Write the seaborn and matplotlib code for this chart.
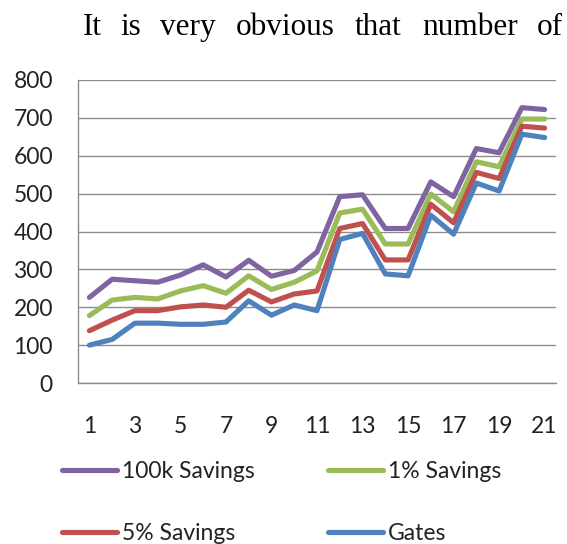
import matplotlib
matplotlib.use("Agg")
import matplotlib.pyplot as plt
import seaborn as sns
import pandas as pd
import numpy as np

# Series values per position
positions = list(range(1, 22))
savings_100k = [226, 274, 270, 266, 285, 312, 280, 324, 282, 297, 346, 492, 497, 408, 408, 531, 492, 619, 608, 727, 722]
savings_1pct = [178, 219, 226, 222, 243, 257, 237, 283, 247, 266, 296, 449, 459, 367, 367, 499, 452, 584, 571, 697, 697]
savings_5pct = [138, 166, 191, 191, 201, 206, 200, 245, 214, 235, 243, 408, 421, 325, 325, 472, 423, 556, 540, 678, 673]
gates = [100, 115, 158, 158, 155, 155, 161, 217, 179, 206, 191, 379, 395, 288, 283, 443, 393, 528, 507, 657, 648]

series_names = ["100k Savings", "1% Savings", "5% Savings", "Gates"]
series_values = [savings_100k, savings_1pct, savings_5pct, gates]
colors = {"100k Savings": "#8064A2", "1% Savings": "#9BBB59",
          "5% Savings": "#C0504D", "Gates": "#4F81BD"}

x_tick_labels = [str(v) for v in range(1, 22, 2)]
y_ticks = list(range(0, 801, 100))

# Sentence fragment above the chart (justified words)
header_words = ["It", "is", "very", "obvious", "that", "number", "of"]
header_x_px = [83, 120, 160, 236, 355, 422, 537]

df = pd.DataFrame({
    "position": np.tile(positions, len(series_names)),
    "value": np.concatenate(series_values),
    "series": np.repeat(series_names, len(positions)),
})

sns.set_theme(style="white")
plt.rcParams["font.family"] = ["Lato", "DejaVu Sans"]

W, H = 567, 544
fs = 16.5
fig = plt.figure(figsize=(W / 100, H / 100), dpi=100)
ax = fig.add_axes([78 / W, 1 - 383 / H, (556 - 78) / W, (383 - 80) / H])

sns.lineplot(data=df, x="position", y="value", hue="series", hue_order=series_names,
             palette=colors, linewidth=3.7, ax=ax, legend=True)

grid_c = "#8c8c8c"
ax.set_xlim(0.5, 21.5)
ax.set_ylim(0, 800)
ax.set_yticks(y_ticks)
ax.set_yticklabels([str(v) for v in y_ticks])
ax.yaxis.grid(True, color=grid_c, linewidth=1.0)
ax.set_axisbelow(True)
ax.set_xticks(list(range(1, 22, 2)))
ax.set_xticklabels(x_tick_labels)
ax.set_xticks(np.arange(0.5, 22, 1.0), minor=True)
ax.tick_params(axis="x", which="major", length=0, pad=24, labelsize=fs, colors="#222222")
ax.tick_params(axis="x", which="minor", length=7, width=1.0, color=grid_c, direction="out")
ax.tick_params(axis="y", which="major", length=7, width=1.0, color=grid_c, pad=11,
               labelsize=fs, labelcolor="#222222", direction="out")
ax.set_xlabel("")
ax.set_ylabel("")
for side in ["top", "right"]:
    ax.spines[side].set_visible(False)
for side in ["left", "bottom"]:
    ax.spines[side].set_color(grid_c)
    ax.spines[side].set_linewidth(1.0)

handles, labels = ax.get_legend_handles_labels()
hmap = dict(zip(labels, handles))
order = ["100k Savings", "5% Savings", "1% Savings", "Gates"]
ax.get_legend().remove()
leg = fig.legend([hmap[n] for n in order], order, ncol=2, loc="upper left",
                 bbox_to_anchor=(62 / W, 1 - 461 / H), frameon=False, fontsize=fs,
                 handlelength=2.4, handletextpad=0.22, columnspacing=3.2,
                 labelspacing=1.8, borderaxespad=0, borderpad=0)
for line in leg.get_lines():
    line.set_linewidth(3.7)
    line.set_solid_capstyle("round")
for t in leg.get_texts():
    t.set_color("#222222")

for word, xp in zip(header_words, header_x_px):
    fig.text(xp / W, 1 - 35 / H, word, family="Liberation Serif", fontsize=22.5,
             va="baseline", ha="left", color="black")

fig.savefig("out.png", dpi=100)
